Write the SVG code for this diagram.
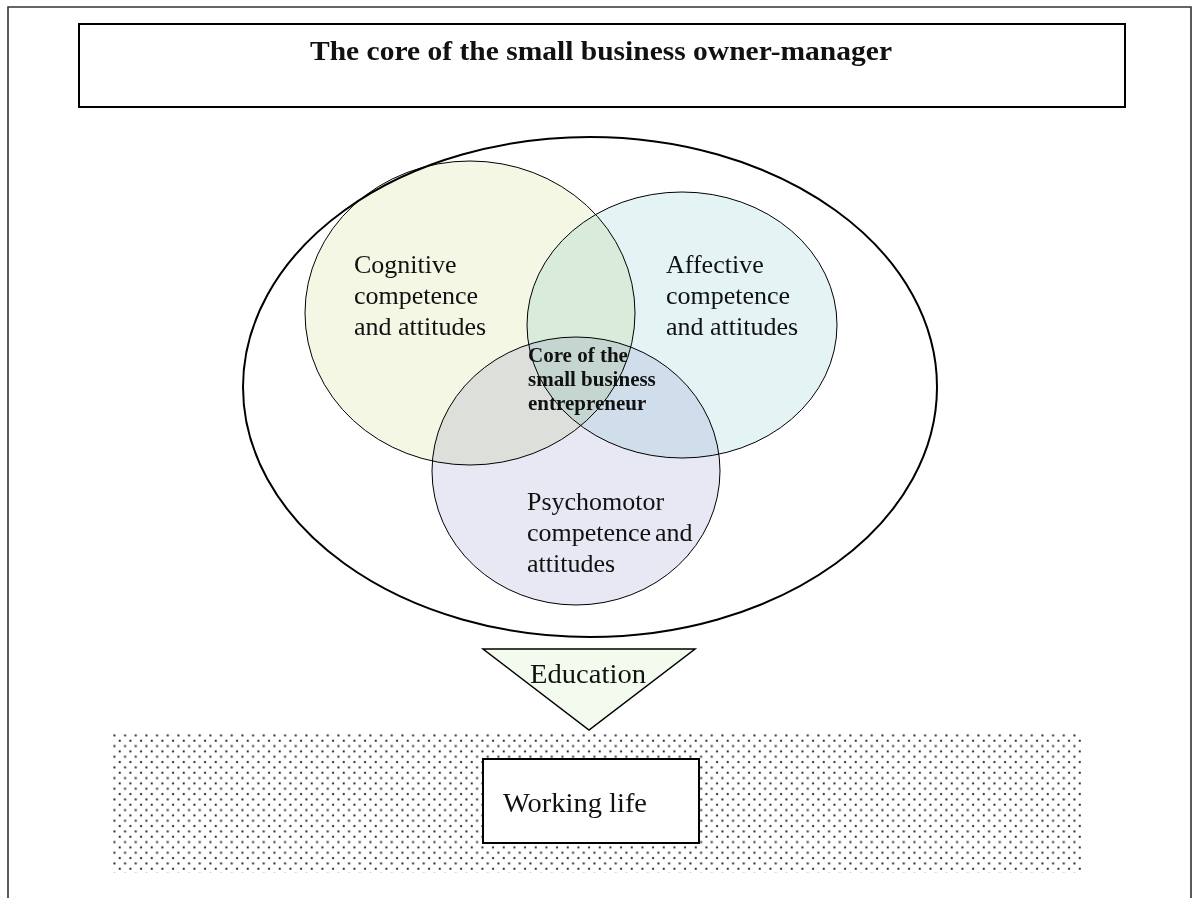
<svg xmlns="http://www.w3.org/2000/svg" width="1195" height="898" viewBox="0 0 1195 898">
<style>
.serif{font-family:"Liberation Serif","Times New Roman",serif;fill:#111}
.lbl{font-size:26px}
.big{font-size:27px}
.core{font-size:21px;font-weight:bold}
.title{font-size:27px;font-weight:bold}
.circ{mix-blend-mode:multiply;stroke:none}
.edge{fill:none;stroke:#000;stroke-width:1}
</style>
<defs>
<pattern id="dots" patternUnits="userSpaceOnUse" x="113" y="734" width="10.667" height="10.667">
<rect x="0.4" y="0.4" width="2" height="2" fill="#2e2e2e"/>
<rect x="5.73" y="5.73" width="2" height="2" fill="#2e2e2e"/>
</pattern>
</defs>
<rect width="1195" height="898" fill="#fff"/>
<g id="frame">
<path d="M8,898 V7 H1191 V898" fill="none" stroke="#333" stroke-width="1.6"/>
</g>
<g id="title">
<rect x="79" y="24" width="1046" height="83" fill="#fff" stroke="#000" stroke-width="2"/>
<text class="serif title" x="310" y="60" textLength="582" lengthAdjust="spacingAndGlyphs">The core of the small business owner-manager</text>
</g>
<g id="outer">
<ellipse cx="590" cy="387" rx="347" ry="250" fill="#fff" stroke="#000" stroke-width="2"/>
</g>
<g id="venn">
<ellipse class="circ" cx="470" cy="313" rx="165" ry="152" fill="#f3f7e4"/>
<ellipse class="circ" cx="682" cy="325" rx="155" ry="133" fill="#e4f4f5"/>
<ellipse class="circ" cx="576" cy="471" rx="144" ry="134" fill="#e8e8f4"/>
<ellipse class="edge" cx="470" cy="313" rx="165" ry="152"/>
<ellipse class="edge" cx="682" cy="325" rx="155" ry="133"/>
<ellipse class="edge" cx="576" cy="471" rx="144" ry="134"/>
</g>
<g id="cognitive">
<text class="serif lbl" x="354" y="273">Cognitive</text>
<text class="serif lbl" x="354" y="304">competence</text>
<text class="serif lbl" x="354" y="335">and attitudes</text>
</g>
<g id="affective">
<text class="serif lbl" x="666" y="273">Affective</text>
<text class="serif lbl" x="666" y="304">competence</text>
<text class="serif lbl" x="666" y="335">and attitudes</text>
</g>
<g id="psychomotor">
<text class="serif lbl" x="527" y="510">Psychomotor</text>
<text class="serif lbl" x="527" y="541">competence</text>
<text class="serif lbl" x="655" y="541">and</text>
<text class="serif lbl" x="527" y="572">attitudes</text>
</g>
<g id="core">
<text class="serif core" x="528" y="362">Core of the</text>
<text class="serif core" x="528" y="386">small business</text>
<text class="serif core" x="528" y="410">entrepreneur</text>
</g>
<g id="education">
<polygon points="483,649 695,649 589,730" fill="#f3fbef" stroke="#000" stroke-width="1.5"/>
<text class="serif big" x="530" y="683" textLength="116" lengthAdjust="spacingAndGlyphs">Education</text>
</g>
<g id="workinglife-area">
<rect x="113" y="734" width="970" height="139" fill="url(#dots)"/>
</g>
<g id="workinglife">
<rect x="483" y="759" width="216" height="84" fill="#fff" stroke="#000" stroke-width="2"/>
<text class="serif big" x="503" y="812" textLength="144" lengthAdjust="spacingAndGlyphs">Working life</text>
</g>
<g id="connectors"></g>
</svg>
